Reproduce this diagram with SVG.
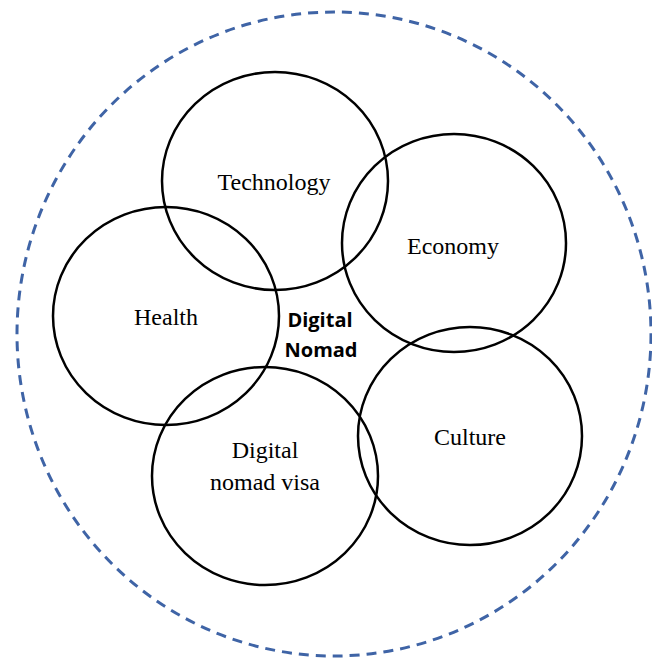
<svg xmlns="http://www.w3.org/2000/svg" width="652" height="658" viewBox="0 0 652 658">
<style>
.c{fill:none;stroke:#000;stroke-width:2.5}
.t{font-family:"Liberation Serif","Times New Roman",serif;font-size:24px;fill:#000;text-anchor:middle}
.b{font-family:"Open Sans","Liberation Sans",sans-serif;font-size:20px;font-weight:bold;fill:#000;text-anchor:middle}
</style>
<rect width="652" height="658" fill="#fff"/>
<g id="outer"><ellipse cx="334" cy="334" rx="317" ry="322" fill="none" stroke="#3f64a6" stroke-width="3" stroke-dasharray="10,7"/></g>
<g id="technology"><ellipse class="c" cx="275" cy="181" rx="113" ry="109"/><text class="t" x="274" y="190">Technology</text></g>
<g id="economy"><ellipse class="c" cx="454" cy="243" rx="112" ry="109"/><text class="t" x="453" y="254">Economy</text></g>
<g id="health"><ellipse class="c" cx="166" cy="316" rx="113" ry="109"/><text class="t" x="166" y="325">Health</text></g>
<g id="culture"><ellipse class="c" cx="470" cy="436" rx="112" ry="109"/><text class="t" x="470" y="445">Culture</text></g>
<g id="visa"><ellipse class="c" cx="265" cy="476" rx="113" ry="109"/><text class="t" x="265" y="458">Digital</text><text class="t" x="265" y="490">nomad visa</text></g>
<g id="center"><text class="b" x="320" y="327">Digital</text><text class="b" x="321" y="357">Nomad</text></g>
<g id="connectors"/>
</svg>
